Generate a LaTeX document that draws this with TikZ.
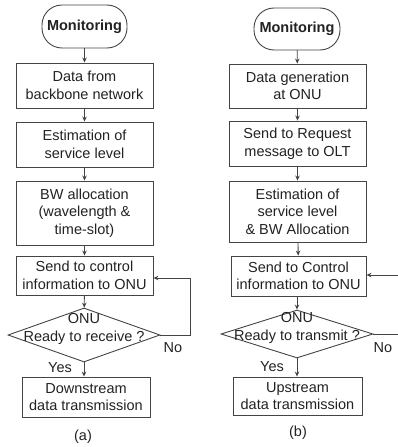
\documentclass[tikz,border=0pt]{standalone}
\usepackage{fontspec}
\setmainfont{Liberation Sans}
\usetikzlibrary{shapes.geometric,arrows.meta}
\definecolor{ink}{HTML}{222222}
\definecolor{edge}{HTML}{444444}
\tikzset{
  base/.style={font=\fontsize{14.5}{17.5}\selectfont, text=ink, align=center, inner sep=0pt},
  box/.style={base, draw=edge, line width=0.9pt, rectangle},
  term/.style={base, draw=edge, line width=0.9pt, rectangle, rounded corners=20pt, font=\fontsize{14.5}{17.5}\selectfont\bfseries},
  decide/.style={draw=edge, line width=0.9pt, diamond, inner sep=0pt},
  flow/.style={draw=edge, line width=0.9pt, -{Stealth[length=5pt,width=4.5pt]}},
  plain/.style={draw=edge, line width=0.9pt},
  lbl/.style={base}
}
\begin{document}
\begin{tikzpicture}[x=1pt,y=-1pt]
\useasboundingbox (0,0) rectangle (398,447);

% ---- (a) downstream ----
\node[term, minimum width=85pt, minimum height=43pt] (am) at (84.5,26.5) {Monitoring};
\node[box, minimum width=137pt, minimum height=45pt] (a1) at (84.5,85.5) {Data from\\backbone network};
\node[box, minimum width=137pt, minimum height=45pt] (a2) at (84.5,144.5) {Estimation of\\service level};
\node[box, minimum width=137pt, minimum height=64pt] (a3) at (84.5,213) {BW allocation\\(wavelength \&\\time-slot)};
\node[box, minimum width=137pt, minimum height=39pt] (a4) at (84.5,275.5) {Send to control\\information to ONU};
\node[decide, minimum width=152pt, minimum height=54pt] (ad) at (84,335) {};
\node[lbl] (adt) at (84,329) {ONU\\Ready to receive ?};
\node[box, minimum width=128pt, minimum height=40pt] (a5) at (86,397) {Downstream\\data transmission};
\node[lbl] (ayes) at (60,368) {Yes};
\node[lbl] (ano) at (173,348) {No};
\node[lbl] (acap) at (83,437) {(a)};

\draw[flow] (am) -- (a1);
\draw[flow] (a1) -- (a2);
\draw[flow] (a2) -- (a3);
\draw[flow] (a3) -- (a4);
\draw[flow] (a4) -- (ad);
\draw[flow] (ad.south) -- (ad.south |- a5.north);
\coordinate (aloopA) at (190,335);
\coordinate (aloopB) at (190,278);
\draw[flow] (ad.east) -- (aloopA) -- (aloopB) -- (aloopB -| a4.east);

% ---- (b) upstream ----
\node[term, minimum width=86pt, minimum height=42pt] (bm) at (297,29) {Monitoring};
\node[box, minimum width=137pt, minimum height=44pt] (b1) at (297.5,86) {Data generation\\at ONU};
\node[box, minimum width=137pt, minimum height=45pt] (b2) at (297.5,143.5) {Send to Request\\message to OLT};
\node[box, minimum width=137pt, minimum height=61pt] (b3) at (297.5,211.5) {Estimation of\\service level\\\& BW Allocation};
\node[box, minimum width=135pt, minimum height=40pt] (b4) at (298.5,276) {Send to Control\\information to ONU};
\node[decide, minimum width=152pt, minimum height=48pt] (bd) at (297,334) {};
\node[lbl] (bdt) at (297,328) {ONU\\Ready to transmit ?};
\node[box, minimum width=129pt, minimum height=38pt] (b5) at (297.5,396) {Upstream\\data transmission};
\node[lbl] (byes) at (272,367) {Yes};
\node[lbl] (bno) at (383,348) {No};
\node[lbl] (bcap) at (298,433) {(b)};

\draw[flow] (bm) -- (b1);
\draw[flow] (b1) -- (b2);
\draw[flow] (b2) -- (b3);
\draw[flow] (b3) -- (b4);
\draw[flow] (b4.south -| bd.north) -- (bd.north);
\draw[flow] (bd.south) -- (bd.south |- b5.north);
\coordinate (bloopA) at (398,334);
\coordinate (bloopB) at (398,275);
\draw[plain] (bd.east) -- (bloopA);
\draw[flow] (bloopB) -- (bloopB -| b4.east);
\end{tikzpicture}
\end{document}
